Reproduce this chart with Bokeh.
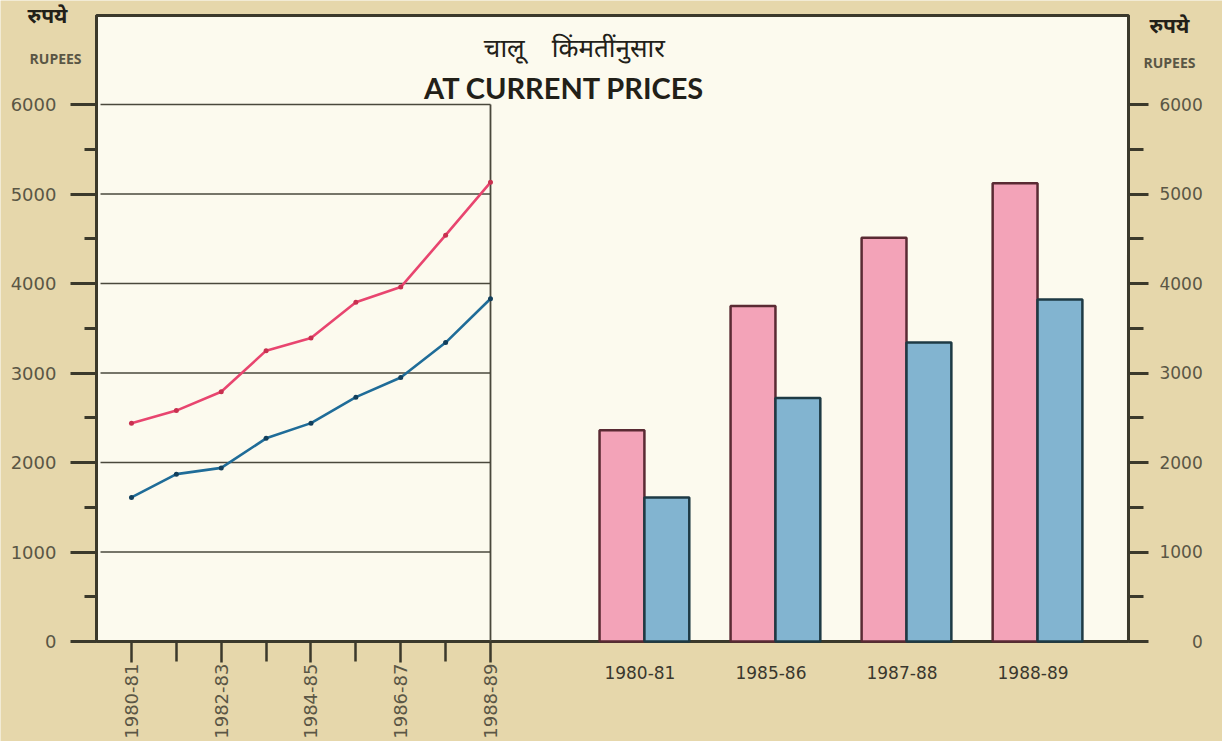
import math
from bokeh.plotting import figure
from bokeh.models import LinearAxis, FixedTicker, Label, Range1d, BoxAnnotation
from bokeh.embed import file_html
from bokeh.resources import INLINE

# ---------------- data ----------------
years = ["1980-81", "1981-82", "1982-83", "1983-84", "1984-85",
         "1985-86", "1986-87", "1987-88", "1988-89"]
pink_line = [2440, 2580, 2790, 3250, 3390, 3790, 3960, 4540, 5130]
blue_line = [1610, 1870, 1940, 2270, 2440, 2730, 2950, 3340, 3830]

bar_years = ["1980-81", "1985-86", "1987-88", "1988-89"]
pink_bars = [2360, 3750, 4510, 5120]
blue_bars = [1610, 2720, 3340, 3820]

y_ticks = [0, 1000, 2000, 3000, 4000, 5000, 6000]
y_minor = [500, 1500, 2500, 3500, 4500, 5500]

title_mr = "चालू\u00a0\u00a0\u00a0\u00a0किंमतींनुसार"
title_en = "AT CURRENT PRICES"
unit_mr = "रुपये"
unit_en = "RUPEES"

# ---------------- style ----------------
BG = "#e6d7ab"
PANEL = "#fcfaee"
DARK = "#3b392b"
AXTXT = "#5a5645"
PINK_LINE = "#e8456f"
BLUE_LINE = "#1f6c98"
PINK_FILL = "#f3a3b8"
PINK_EDGE = "#5a2a33"
BLUE_FILL = "#82b4d0"
BLUE_EDGE = "#1e3a44"

# whole canvas is the frame; axes are placed at fixed data locations
XS, XE = -2.919, 24.312          # visible x range (line index units)
YS, YE = -1117, 7162             # visible y range (rupees)
PX0, PX1, PTOP = -0.78, 22.217, 6994   # the white chart panel

p = figure(frame_width=1222, frame_height=741, title=None,
           x_range=Range1d(XS, XE), y_range=Range1d(YS, YE),
           x_axis_location=None, y_axis_location=None,
           output_backend="svg", toolbar_location=None, min_border=0,
           background_fill_color=BG, border_fill_color=BG,
           outline_line_color=None)
p.xgrid.visible = False
p.ygrid.visible = False

# ---- panel ----
p.add_layout(BoxAnnotation(left=PX0, right=PX1, bottom=0, top=PTOP,
                           fill_color=PANEL, fill_alpha=1.0,
                           line_color=DARK, line_width=3, line_alpha=1.0,
                           level="underlay"))

# ---- left panel grid (only behind the line chart) ----
idx = list(range(len(years)))
last = idx[-1]
grid_vals = [t for t in y_ticks if t > 0]
p.segment(x0=[-0.69] * len(grid_vals), x1=[last] * len(grid_vals),
          y0=grid_vals, y1=grid_vals, line_color="#4a483c", line_width=1.6)
p.segment(x0=[last], x1=[last], y0=[0], y1=[max(y_ticks)],
          line_color="#4a483c", line_width=1.8)

# ---- line chart ----
p.line(idx, pink_line, line_color=PINK_LINE, line_width=2.6)
p.scatter(idx, pink_line, size=5, fill_color="#c8304f", line_color=None)
p.line(idx, blue_line, line_color=BLUE_LINE, line_width=2.6)
p.scatter(idx, blue_line, size=5, fill_color="#123f5c", line_color=None)

# ---- bar chart ----
group_start, group_step, bw = 11.43, 2.92, 1.0
centers = [group_start + i * group_step for i in range(len(bar_years))]
p.vbar(x=[c - bw / 2 for c in centers], top=pink_bars, width=bw, bottom=0,
       fill_color=PINK_FILL, line_color=PINK_EDGE, line_width=2.5)
p.vbar(x=[c + bw / 2 for c in centers], top=blue_bars, width=bw, bottom=0,
       fill_color=BLUE_FILL, line_color=BLUE_EDGE, line_width=2.5)

# ---- bottom axis (line chart years), at y = 0 ----
xa = LinearAxis(fixed_location=0,
                ticker=FixedTicker(ticks=idx[::2], minor_ticks=idx[1::2]),
                major_label_overrides={i: years[i] for i in idx[::2]},
                major_label_orientation=math.pi / 2,
                major_label_text_font="DejaVu Sans",
                major_label_text_font_size="18px",
                major_label_text_color=AXTXT,
                major_label_standoff=1,
                axis_line_color=None,
                major_tick_out=21, major_tick_in=0,
                minor_tick_out=20, minor_tick_in=0,
                major_tick_line_color=DARK, minor_tick_line_color=DARK,
                major_tick_line_width=2.5, minor_tick_line_width=2.5)
p.add_layout(xa, "below")

# ---- bar category axis, at y = 0 ----
lab_x = [c - 0.1 for c in centers]
bx = LinearAxis(fixed_location=0,
                ticker=FixedTicker(ticks=lab_x, minor_ticks=[]),
                major_label_overrides={x: t for x, t in zip(lab_x, bar_years)},
                major_label_text_font="DejaVu Sans",
                major_label_text_font_size="17px",
                major_label_text_color="#3a382e",
                major_label_standoff=24, major_tick_out=0, major_tick_in=0,
                major_tick_line_color=None, minor_tick_line_color=None,
                axis_line_color=None)
p.add_layout(bx, "below")

# ---- value axes on both panel edges ----
def value_axis(loc, side, tick_out, minor_out, standoff, size, overrides):
    ax = LinearAxis(fixed_location=loc, bounds=(0, PTOP),
                    ticker=FixedTicker(ticks=y_ticks, minor_ticks=y_minor),
                    major_label_overrides=overrides,
                    major_label_text_font="DejaVu Sans",
                    major_label_text_font_size=size,
                    major_label_text_color=AXTXT,
                    major_label_standoff=standoff,
                    axis_line_color=DARK, axis_line_width=3,
                    major_tick_out=tick_out, major_tick_in=0,
                    minor_tick_out=minor_out, minor_tick_in=0,
                    major_tick_line_color=DARK, minor_tick_line_color=DARK,
                    major_tick_line_width=3, minor_tick_line_width=3)
    p.add_layout(ax, side)

value_axis(PX0, "left", 26, 12, 14, "18px", {})
value_axis(PX1, "right", 20, 15, 11, "17px", {0: "\u2007\u2007\u20070"})

# ---- unit captions ----
for xx, ym, ye in [(-1.872, 6961, 6514), (23.13, 6860, 6469)]:
    p.add_layout(Label(x=xx, y=ym, text=unit_mr, text_align="center",
                       text_baseline="middle", text_font="Noto Sans Devanagari",
                       text_font_style="bold", text_font_size="21px",
                       text_color="#222018"))
    p.add_layout(Label(x=xx + (0.18 if xx < 0 else 0), y=ye, text=unit_en,
                       text_align="center", text_baseline="middle",
                       text_font="Open Sans", text_font_style="bold",
                       text_font_size="14px", text_color=AXTXT))

# ---- titles ----
p.add_layout(Label(x=9.87, y=6603, text=title_mr, text_align="center",
                   text_baseline="middle",
                   text_font="Noto Sans Devanagari", text_font_size="26px",
                   text_color="#222018"))
p.add_layout(Label(x=9.65, y=6190, text=title_en, text_align="center",
                   text_baseline="middle", text_font="Lato",
                   text_font_style="bold", text_font_size="29px",
                   text_color="#222018"))

open("out.html", "w").write(file_html(p, INLINE))
